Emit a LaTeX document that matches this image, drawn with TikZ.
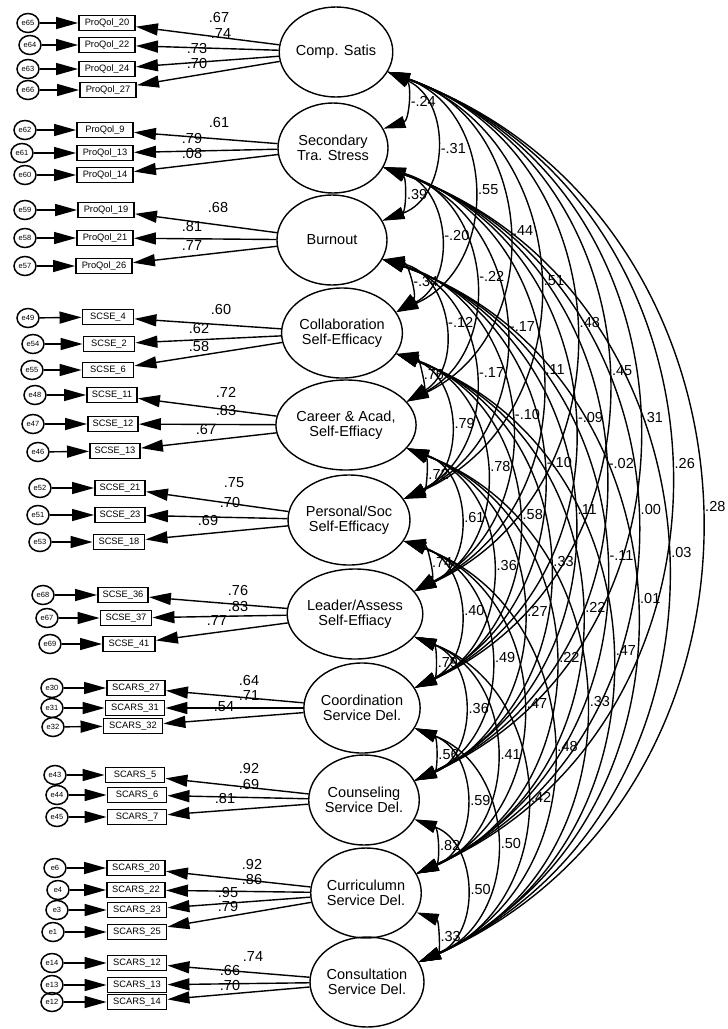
\documentclass[tikz,border=0pt]{standalone}
\usepackage{fontspec}
\setmainfont{Liberation Sans}
\usetikzlibrary{arrows.meta,shapes.geometric}

% one indicator: error term, observed box, error arrow, loading arrow, loading value
% #1 error name, #2 error centre, #3 box centre, #4 box width, #5 box text,
% #6 factor node, #7 loading, #8 loading position
\newcommand{\mitem}[8]{%
  \node[err] (#1) at (#2) {#1};
  \node[obs,minimum width=#4pt] (x#1) at (#3) {#5};
  \draw[arr] (#1) -- (x#1);
  \draw[arr] (#6) -- (x#1);
  \node[val] (l#1) at (#8) {#7};
}

% factor covariances: pair and value
\newcommand{\covlist}{
  cs/sts/-.24, cs/bo/-.31, cs/col/.55, cs/car/.44, cs/per/.51, cs/lea/.48,
  cs/coo/.45, cs/cou/.31, cs/cur/.26, cs/con/.28,
  sts/bo/.39, sts/col/-.20, sts/car/-.22, sts/per/-.17, sts/lea/.11,
  sts/coo/-.09, sts/cou/-.02, sts/cur/.00, sts/con/.03,
  bo/col/-.34, bo/car/-.12, bo/per/-.17, bo/lea/-.10, bo/coo/-.10,
  bo/cou/.11, bo/cur/-.11, bo/con/.01,
  col/car/.76, col/per/.79, col/lea/.78, col/coo/.58, col/cou/.33,
  col/cur/.22, col/con/.47,
  car/per/.72, car/lea/.61, car/coo/.36, car/cou/.27, car/cur/.22, car/con/.33,
  per/lea/.74, per/coo/.40, per/cou/.49, per/cur/.47, per/con/.48,
  lea/coo/.79, lea/cou/.36, lea/cur/.41, lea/con/.42,
  coo/cou/.56, coo/cur/.59, coo/con/.50,
  cou/cur/.82, cou/con/.50,
  cur/con/.33}

\begin{document}
\begin{tikzpicture}[x=1pt,y=-1pt,
  latent/.style={ellipse,draw,line width=1.4pt,minimum width=110pt,minimum height=90pt,
    inner sep=0pt,align=center,font=\fontsize{14.5}{15.5}\selectfont},
  obs/.style={rectangle,draw,line width=1.9pt,minimum height=15pt,inner sep=0pt,
    font=\fontsize{9.3}{10}\selectfont},
  err/.style={ellipse,draw,line width=1.5pt,minimum width=22pt,minimum height=19pt,
    inner sep=0pt,font=\fontsize{7.5}{8}\selectfont},
  tip/.tip={Triangle[length=22pt,width=12pt]},
  arr/.style={line width=1.4pt,-tip},
  cov/.style={line width=1.4pt,tip-tip,bend left=68,looseness=1.22},
  val/.style={font=\fontsize{14.5}{15.5}\selectfont,inner sep=1pt},
]
\useasboundingbox (0,0) rectangle (728,1029);

% latent factors
\node[latent] (cs)  at (336,52)  {Comp. Satis};
\node[latent] (sts) at (333,148) {Secondary\\Tra. Stress};
\node[latent] (bo)  at (332,240) {Burnout};
\node[latent] (col) at (342,333) {Collaboration\\Self-Efficacy};
\node[latent] (car) at (346,425) {Career \& Acad,\\Self-Effiacy};
\node[latent] (per) at (349,520) {Personal/Soc\\Self-Efficacy};
\node[latent] (lea) at (355,614) {Leader/Assess\\Self-Effiacy};
\node[latent] (coo) at (362,708) {Coordination\\Service Del.};
\node[latent] (cou) at (364,800) {Counseling\\Service Del.};
\node[latent] (cur) at (366,893) {Curriculumn\\Service Del.};
\node[latent] (con) at (367,982) {Consultation\\Service Del.};

% measurement part
\mitem{e65}{28,23}{107,23}{56}{ProQol\_20}{cs}{.67}{219,18}
\mitem{e64}{30,45}{107,45}{56}{ProQol\_22}{cs}{.74}{221,34}
\mitem{e63}{28,69}{107,69}{56}{ProQol\_24}{cs}{.73}{197,49}
\mitem{e66}{28,90}{108,90}{56}{ProQol\_27}{cs}{.70}{197,64}
\mitem{e62}{25,130}{105,130}{56}{ProQol\_9}{sts}{.61}{219,123}
\mitem{e61}{22,153}{105,153}{56}{ProQol\_13}{sts}{.79}{192,139}
\mitem{e60}{25,175}{105,175}{56}{ProQol\_14}{sts}{.08}{192,154}
\mitem{e59}{25,210}{106,210}{56}{ProQol\_19}{bo}{.68}{218,208}
\mitem{e58}{25,238}{105,238}{56}{ProQol\_21}{bo}{.81}{192,227}
\mitem{e57}{25,266}{104,266}{56}{ProQol\_26}{bo}{.77}{192,246}
\mitem{e49}{28,318}{108,317}{51}{SCSE\_4}{col}{.60}{221,310}
\mitem{e54}{33,344}{109,344}{51}{SCSE\_2}{col}{.62}{199,329}
\mitem{e55}{32,370}{108,370}{51}{SCSE\_6}{col}{.58}{199,347}
\mitem{e48}{35,395}{112,395}{50}{SCSE\_11}{car}{.72}{226,392}
\mitem{e47}{33,424}{113,424}{50}{SCSE\_12}{car}{.83}{226,411}
\mitem{e46}{38,452}{115,451}{50}{SCSE\_13}{car}{.67}{206,430}
\mitem{e52}{40,488}{120,488}{50}{SCSE\_21}{per}{.75}{234,483}
\mitem{e51}{38,515}{120,515}{50}{SCSE\_23}{per}{.70}{230,503}
\mitem{e53}{40,542}{119,542}{51}{SCSE\_18}{per}{.69}{208,520}
\mitem{e68}{43,595}{123,595}{50}{SCSE\_36}{lea}{.76}{238,590}
\mitem{e67}{47,618}{126,618}{51}{SCSE\_37}{lea}{.83}{238,606}
\mitem{e69}{50,644}{129,644}{52}{SCSE\_41}{lea}{.77}{217,621}
\mitem{e30}{52,688}{136,688}{58}{SCARS\_27}{coo}{.64}{249,680}
\mitem{e31}{52,708}{135,708}{59}{SCARS\_31}{coo}{.71}{249,696}
\mitem{e32}{53,727}{133,726}{59}{SCARS\_32}{coo}{.54}{224,707}
\mitem{e43}{55,775}{135,775}{59}{SCARS\_5}{cou}{.92}{249,768}
\mitem{e44}{57,795}{137,795}{59}{SCARS\_6}{cou}{.69}{249,784}
\mitem{e45}{57,817}{137,817}{59}{SCARS\_7}{cou}{.81}{225,798}
\mitem{e6}{55,868}{136,868}{58}{SCARS\_20}{cur}{.92}{252,864}
\mitem{e4}{58,890}{136,890}{58}{SCARS\_22}{cur}{.86}{252,879}
\mitem{e3}{57,910}{137,910}{59}{SCARS\_23}{cur}{.95}{228,892}
\mitem{e1}{53,932}{137,932}{59}{SCARS\_25}{cur}{.79}{228,906}
\mitem{e14}{52,963}{137,963}{59}{SCARS\_12}{con}{.74}{253,957}
\mitem{e13}{52,985}{137,985}{59}{SCARS\_13}{con}{.66}{230,970}
\mitem{e12}{52,1002}{137,1002}{59}{SCARS\_14}{con}{.70}{230,985}

% covariance arcs, with a coordinate at each arc's middle
\foreach \a/\b/\v in \covlist
  \draw[cov] (\a.-21) to coordinate[pos=0.5] (m-\a-\b) (\b.21);

% covariance values, set just right of their arcs (the tips push each drawn arc
% about 5pt further out than its middle coordinate)
\foreach \a/\b/\v in \covlist
  \node[val,anchor=west,xshift=5pt,inner xsep=1.2pt] (c-\a-\b) at (m-\a-\b) {\v};
\end{tikzpicture}
\end{document}
